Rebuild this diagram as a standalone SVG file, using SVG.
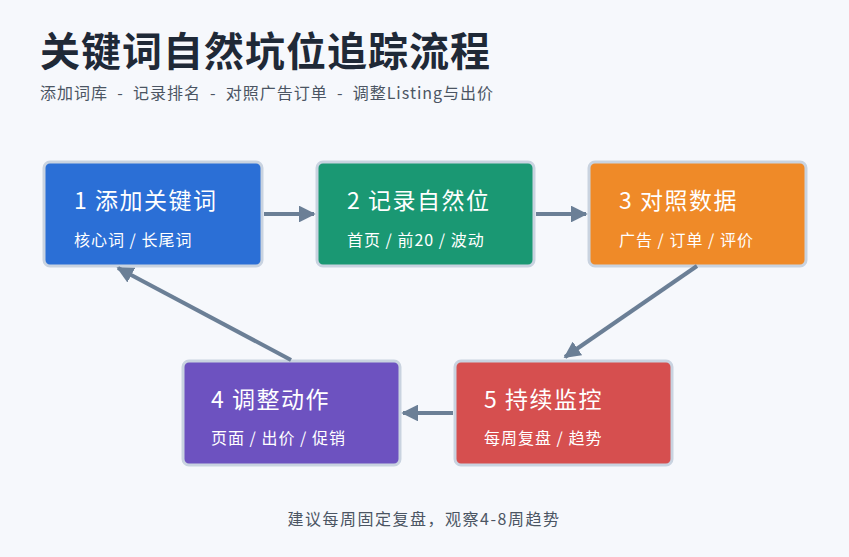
<svg xmlns="http://www.w3.org/2000/svg" width="849" height="557" viewBox="0 0 849 557">
<defs>
<marker id="ah" viewBox="0 0 10 10" refX="9" refY="5" markerWidth="4.2" markerHeight="4.2" orient="auto"><path d="M0,0 L10,5 L0,10 z" fill="#6b7f96"/></marker>
<style>
text{font-family:"Noto Sans CJK SC","Noto Sans",sans-serif}
.box{stroke:#c9d3e0;stroke-width:3}
.t{fill:#fff;font-size:23px;letter-spacing:1.5px}
.s{fill:#fff;font-size:16px;letter-spacing:1px}
.c{stroke:#6b7f96;stroke-width:4;fill:none;marker-end:url(#ah)}
</style>
</defs>
<rect width="849" height="557" fill="#f6f8fc"/>
<text x="40" y="66" font-size="40" font-weight="bold" fill="#1f2937" letter-spacing="1">关键词自然坑位追踪流程</text>
<text x="40" y="99" font-size="16" fill="#4b5563" letter-spacing="1" xml:space="preserve">添加词库  -  记录排名  -  对照广告订单  -  调整Listing与出价</text>
<g id="n1"><rect class="box" x="44" y="162" width="218" height="104" rx="6" fill="#2b6fd6"/><text class="t" x="74" y="209">1 添加关键词</text><text class="s" x="74" y="246">核心词 / 长尾词</text></g>
<g id="n2"><rect class="box" x="317" y="162" width="217" height="104" rx="6" fill="#1a9873"/><text class="t" x="347" y="209">2 记录自然位</text><text class="s" x="347" y="246">首页 / 前20 / 波动</text></g>
<g id="n3"><rect class="box" x="589" y="162" width="217" height="104" rx="6" fill="#ef8a28"/><text class="t" x="619" y="209">3 对照数据</text><text class="s" x="619" y="246">广告 / 订单 / 评价</text></g>
<g id="n4"><rect class="box" x="183" y="361" width="217" height="104" rx="6" fill="#6d52c0"/><text class="t" x="211" y="408">4 调整动作</text><text class="s" x="211" y="444">页面 / 出价 / 促销</text></g>
<g id="n5"><rect class="box" x="455" y="361" width="217" height="104" rx="6" fill="#d64f4f"/><text class="t" x="484" y="408">5 持续监控</text><text class="s" x="484" y="444">每周复盘 / 趋势</text></g>
<g id="connectors">
<line class="c" x1="264" y1="214" x2="314" y2="214"/>
<line class="c" x1="536" y1="214" x2="586" y2="214"/>
<line class="c" x1="697" y1="266" x2="565" y2="357"/>
<line class="c" x1="453" y1="413" x2="403" y2="413"/>
<line class="c" x1="291" y1="360" x2="118" y2="268"/>
</g>
<text x="424" y="525" font-size="16" fill="#4b5563" text-anchor="middle" letter-spacing="1.5">建议每周固定复盘，观察4-8周趋势</text>
</svg>
